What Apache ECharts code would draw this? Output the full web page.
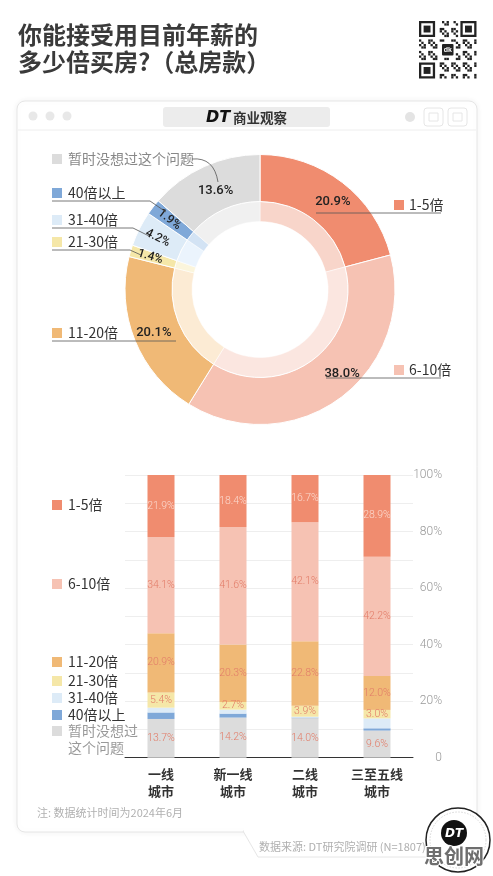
<!DOCTYPE html>
<html><head><meta charset="utf-8">
<script src="https://cdn.jsdelivr.net/npm/echarts@6/dist/echarts.min.js"></script>
<style>html,body{margin:0;padding:0;background:#fff}#c{width:493px;height:876px}</style>
</head><body><div id="c"></div>
<script>
// ---- data ----
const donutNames = ['1-5倍','6-10倍','11-20倍','21-30倍','31-40倍','40倍以上','暂时没想过这个问题'];
const donutValues = [20.9, 38.0, 20.1, 1.4, 4.2, 1.9, 13.6];
const cities = ['一线\n城市','新一线\n城市','二线\n城市','三至五线\n城市'];
const notYet = [13.7, 14.2, 14.0, 9.6];
const over40 = [2.3, 1.4, 0.2, 0.8];
const x31_40 = [1.7, 1.4, 0.3, 3.5];
const x21_30 = [5.4, 2.7, 3.9, 3.0];
const x11_20 = [20.9, 20.3, 22.8, 12.0];
const x6_10 = [34.1, 41.6, 42.1, 42.2];
const x1_5 = [21.9, 18.4, 16.7, 28.9];
const yTickLabels = ['0','20%','40%','60%','80%','100%'];

// ---- styles ----
const FONT = '"Noto Sans CJK SC", "Noto Sans", sans-serif';
const outerColors = ['#F08C6F','#F6C2B3','#F0B976','#F5E7A8','#DDEBF7','#7FA8D8','#DCDCDC'];
const innerColors = ['#F8D5CA','#FBE6E0','#FCEBD4','#FBF5DC','#EBF4FD','#D3E3F4','#F0F0F0'];
const colorOf = {};
donutNames.forEach((n,i)=>colorOf[n]=outerColors[i]);

const chart = echarts.init(document.getElementById('c'), null, {renderer:'canvas'});

function txt(x, y, text, o) {
  o = o || {};
  const st = {text:text, fill:o.color||'#333', font:(o.weight||'normal')+' '+(o.size||14)+'px '+(o.family||FONT), textAlign:o.align||'left', textVerticalAlign:'middle'};
  if (o.stroke) { st.stroke = o.stroke; st.lineWidth = o.strokeW || 2; }
  return {type:'text', x:x, y:y, z:o.z||20, style:st};
}
function sq(x, y, color) {
  return {type:'rect', z:20, shape:{x:x, y:y-5, width:10, height:10}, style:{fill:color}};
}
function line(points, o) {
  o = o || {};
  return {type:'polyline', z:20, shape:{points:points}, style:{stroke:o.color||'#555', lineWidth:o.w||0.8, fill:null}};
}

const g = [];
// card
g.push({type:'rect', z:-5, shape:{x:17, y:101, width:460, height:731, r:8}, style:{fill:'#fff', stroke:'#e6e6e6', lineWidth:1, shadowBlur:6, shadowColor:'rgba(0,0,0,0.06)'}});
g.push({type:'polygon', z:-4, shape:{points:[[243,831],[258,857],[445,857],[445,831]]}, style:{fill:'#fff', stroke:'#e6e6e6', lineWidth:1}});
g.push({type:'rect', z:-3, shape:{x:244, y:828, width:200, height:4}, style:{fill:'#fff'}});
g.push({type:'line', z:-3, shape:{x1:18, y1:130, x2:476, y2:130}, style:{stroke:'#eeeeee', lineWidth:1}});
[33,50,67].forEach(x=>g.push({type:'circle', z:-3, shape:{cx:x, cy:116, r:4.5}, style:{fill:'#e8e8e8'}}));
g.push({type:'rect', z:-3, shape:{x:163, y:107, width:167, height:20, r:3}, style:{fill:'#ececec'}});
g.push(txt(206, 117.5, 'DT', {size:16, weight:'bold italic', color:'#111', family:'"DejaVu Sans", sans-serif'}));
g.push(txt(233, 117.5, '商业观察', {size:13.5, weight:'bold', color:'#333'}));
g.push({type:'circle', z:-3, shape:{cx:410, cy:117, r:5}, style:{fill:'#e4e4e4'}});
g.push({type:'rect', z:-3, shape:{x:424, y:108, width:19, height:18, r:3}, style:{fill:'none', stroke:'#e6e6e6'}});
g.push({type:'rect', z:-3, shape:{x:448, y:108, width:19, height:18, r:3}, style:{fill:'none', stroke:'#e6e6e6'}});
g.push({type:'rect', z:-3, shape:{x:429, y:113, width:9, height:8}, style:{fill:'none', stroke:'#e6e6e6'}});
g.push({type:'rect', z:-3, shape:{x:453, y:113, width:9, height:8}, style:{fill:'none', stroke:'#e6e6e6'}});

// title
g.push(txt(18, 35, '你能接受用目前年薪的', {size:24, weight:'bold', color:'#3a3a3a'}));
g.push(txt(18, 62, '多少倍买房?（总房款）', {size:24, weight:'bold', color:'#3a3a3a'}));

// QR-like decoration
(function(){
  const x0=419, y0=21, m=2.3, n=25;
  for (let i=0;i<n;i++) for (let j=0;j<n;j++) {
    const inFinder = (i<8&&j<8)||(i<8&&j>=n-8)||(i>=n-8&&j<8);
    if (inFinder) continue;
    if (i>=9&&i<=15&&j>=9&&j<=15) continue;
    if (((i*7+j*13+i*j)%5)<2) g.push({type:'rect', z:5, shape:{x:x0+j*m, y:y0+i*m, width:m, height:m}, style:{fill:'#222'}});
  }
  [[0,0],[0,n-7],[n-7,0]].forEach(([i,j])=>{
    g.push({type:'rect', z:5, shape:{x:x0+j*m+m/2, y:y0+i*m+m/2, width:6*m, height:6*m}, style:{fill:'none', stroke:'#222', lineWidth:m}});
    g.push({type:'rect', z:5, shape:{x:x0+(j+2)*m, y:y0+(i+2)*m, width:3*m, height:3*m}, style:{fill:'#222'}});
  });
  g.push({type:'rect', z:6, shape:{x:x0+10*m, y:y0+10*m, width:5*m, height:5*m, r:1}, style:{fill:'#222'}});
  g.push(txt(x0+12.5*m, y0+12.5*m, 'dk', {size:7, weight:'bold', color:'#fff', align:'center', family:'sans-serif', z:7}));
})();

// donut legends + leader lines
g.push(sq(52, 159, colorOf['暂时没想过这个问题']));
g.push(txt(68, 159, '暂时没想过这个问题', {color:'#888'}));
g.push({type:'bezierCurve', z:20, shape:{x1:192, y1:159, x2:218, y2:182, cpx1:214, cpy1:157}, style:{stroke:'#555', lineWidth:0.8, fill:null}});
g.push(sq(52, 193, colorOf['40倍以上']));
g.push(txt(68, 193, '40倍以上'));
g.push(line([[52,201],[150,201],[166,212]]));
g.push(sq(52, 220, colorOf['31-40倍']));
g.push(txt(68, 220, '31-40倍'));
g.push(line([[52,228],[133,228],[149,236]]));
g.push(sq(52, 242, colorOf['21-30倍']));
g.push(txt(68, 242, '21-30倍'));
g.push(line([[52,250],[130,250],[141,255]]));
g.push(sq(52, 333, colorOf['11-20倍']));
g.push(txt(68, 333, '11-20倍'));
g.push(line([[52,341],[176,341]]));
g.push(sq(394, 205, colorOf['1-5倍']));
g.push(txt(409, 205, '1-5倍'));
g.push(line([[316,213],[441,213]]));
g.push(sq(394, 370, colorOf['6-10倍']));
g.push(txt(409, 370, '6-10倍'));
g.push(line([[326,378],[441,378]]));

// bar legends
[['1-5倍',505],['6-10倍',584],['11-20倍',662],['21-30倍',681],['31-40倍',698],['40倍以上',715]].forEach(([n,y])=>{
  g.push(sq(52, y, colorOf[n])); g.push(txt(68, y, n));
});
g.push(sq(52, 731, colorOf['暂时没想过这个问题']));
g.push(txt(68, 731, '暂时没想过', {color:'#999'}));
g.push(txt(68, 748, '这个问题', {color:'#999'}));

// footer
g.push(txt(37, 813, '注: 数据统计时间为2024年6月', {size:11, color:'#b0b0b0'}));
g.push(txt(259, 847, '数据来源: DT研究院调研 (N=1807)', {size:11, color:'#b0b0b0'}));
g.push({type:'circle', z:21, shape:{cx:458, cy:840, r:32}, style:{fill:'#fff', stroke:'#222', lineWidth:1.5}});
g.push({type:'circle', z:21, shape:{cx:458, cy:840, r:28}, style:{fill:'none', stroke:'#ccc', lineWidth:0.8, lineDash:[1.5,1.5]}});
g.push({type:'circle', z:22, shape:{cx:454, cy:833, r:13}, style:{fill:'#111'}});
g.push(txt(454, 833.5, 'DT', {size:12, weight:'bold italic', color:'#fff', align:'center', family:'"DejaVu Sans", sans-serif', z:23}));
g.push(txt(454, 856, '思创网', {size:20, weight:'bold', color:'#6e6e6e', align:'center', z:24, stroke:'#fff', strokeW:2}));

const smallIdx = {3:true, 4:true, 5:true};
const labelNudge = {0:[3,3], 1:[14,-8], 6:[3,5]};

function barSeries(name, data, showLabel, labelColor) {
  return {
    type:'bar', name:name, stack:'all', data:data, barWidth:27, xAxisIndex:0, yAxisIndex:0,
    itemStyle:{color:colorOf[name]},
    label:{show:showLabel, position:'inside', color:labelColor||'#E27C68', fontSize:10.5, fontFamily:'Roboto, sans-serif', fontWeight:300,
      formatter:p=>p.value.toFixed(1)+'%'},
    silent:true
  };
}

const option = {
  animation:false,
  backgroundColor:'#fff',
  graphic:g,
  grid:{left:125, right:80, top:475, bottom:118.3},
  xAxis:{type:'category', data:cities, axisTick:{show:false}, axisLine:{lineStyle:{color:'#333', width:1}},
    axisLabel:{color:'#333', fontSize:13, fontWeight:'bold', fontFamily:FONT, lineHeight:17, margin:8}},
  yAxis:{type:'value', position:'right', min:0, max:100, interval:10,
    axisLine:{show:false}, axisTick:{show:false},
    splitLine:{lineStyle:{color:'#eeeeee', width:1}},
    axisLabel:{align:'right', margin:29, color:'#999', fontSize:12, fontFamily:'Roboto, sans-serif', fontWeight:300,
      formatter:v=> (v%20===0) ? yTickLabels[v/20] : ''}},
  series:[
    {type:'pie', center:[260,289.5], radius:[68,88], startAngle:90, clockwise:true, silent:true, z:1,
      label:{show:false}, labelLine:{show:false},
      itemStyle:{borderColor:'#fff', borderWidth:0.5},
      data:donutNames.map((n,i)=>({name:n, value:donutValues[i], itemStyle:{color:innerColors[i]}}))},
    {type:'pie', center:[260,289.5], radius:[88,135], startAngle:90, clockwise:true, silent:true, z:2,
      avoidLabelOverlap:false,
      itemStyle:{borderColor:'#fff', borderWidth:1},
      label:{position:'inside', color:'#222', fontSize:13, fontWeight:500, fontFamily:'Roboto, sans-serif', formatter:p=>p.value.toFixed(1)+'%'},
      labelLine:{show:false},
      labelLayout:function(p){ const d=labelNudge[p.dataIndex]; return d?{dx:d[0], dy:d[1]}:{}; },
      data:donutNames.map((n,i)=>({name:n, value:donutValues[i], itemStyle:{color:outerColors[i]},
        label: smallIdx[i] ? {rotate:'radial', fontSize:12} : {}}))},
    barSeries('暂时没想过这个问题', notYet, true),
    barSeries('40倍以上', over40, false),
    barSeries('31-40倍', x31_40, false),
    barSeries('21-30倍', x21_30, true),
    barSeries('11-20倍', x11_20, true),
    barSeries('6-10倍', x6_10, true),
    barSeries('1-5倍', x1_5, true, '#FBD9CE')
  ]
};
chart.setOption(option);
</script>
</body></html>
